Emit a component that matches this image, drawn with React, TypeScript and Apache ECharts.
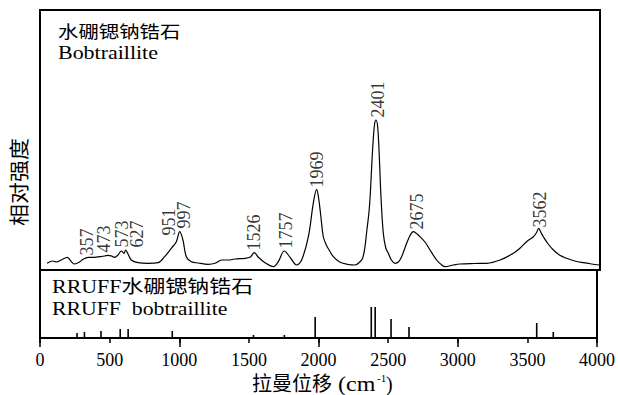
import React, { useEffect, useRef } from "react";
import * as echarts from "echarts";

// Raman spectrum of bobtraillite (wavenumber, relative intensity)
const spectrumX = [
  50, 93, 117, 152, 195, 224, 248, 283, 307, 343, 367, 390, 426, 462, 486, 510, 533, 557, 581, 600,
  612, 629, 652, 700, 771, 843, 890, 938, 974, 998, 1021, 1045, 1081, 1129, 1202, 1250, 1298, 1345,
  1393, 1464, 1500, 1531, 1560, 1607, 1667, 1702, 1745, 1786, 1833, 1869, 1917, 1952, 1976, 1990,
  2005, 2024, 2045, 2065, 2095, 2140, 2200, 2250, 2286, 2305, 2321, 2335, 2350, 2360, 2369, 2380,
  2390, 2400, 2412, 2424, 2436, 2452, 2470, 2488, 2510, 2536, 2560, 2583, 2619, 2645, 2667, 2685,
  2702, 2750, 2786, 2833, 2870, 2893, 2952, 3000, 3100, 3190, 3286, 3381, 3430, 3476, 3524, 3545,
  3562, 3580, 3595, 3630, 3667, 3710, 3762, 3820, 3881, 3940, 3995,
];
const spectrumY = [
  6.7, 9, 8, 10, 12.7, 8.3, 6, 8, 10.7, 12.7, 12.7, 12.7, 13.3, 14, 14.7, 14, 12.7, 15, 19, 16.7,
  20, 16, 10, 7.3, 6.7, 7.3, 13.3, 21.7, 28.3, 38.3, 30, 13.3, 8.3, 7, 5.7, 6.7, 10, 10,
  11, 11.7, 12.7, 17.3, 12.7, 7.3, 3.3, 8.3, 19, 12.7, 5, 10, 33.3, 66.7, 80.7, 72,
  55, 33, 25, 20, 13.3, 8, 5.5, 5, 8.3, 12, 23, 40, 58, 78, 103, 130,
  146, 150, 143, 112, 72, 37, 22, 16.7, 10, 6.7, 8, 13.3, 26.7, 35, 38.3, 37,
  35, 28, 20, 10, 5, 3.3, 5, 6, 6.5, 6.7, 10, 16.7, 22, 28.3, 33.3, 37,
  41.7, 37, 33.3, 26, 20, 15, 11.7, 9, 7.3, 6, 5,
];

// Peak labels and where each label sits (wavenumber, intensity of its base)
const peakLabels = ["357", "473", "573", "627", "951", "997", "1526", "1757", "1969", "2401", "2675", "3562"];
const peakLabelX = [338, 460, 583, 690, 919, 1028, 1530, 1759, 1976, 2412, 2690, 3571];
const peakLabelY = [14, 17, 22, 22, 34, 41, 19, 21, 82, 152, 40, 42];

// RRUFF reference lines (wavenumber, relative height)
const refX = [266, 319, 438, 576, 633, 950, 1533, 1755, 1976, 2379, 2407, 2521, 2650, 3567, 3686];
const refH = [5, 6, 7, 9, 9, 7, 3, 3, 21, 31, 31, 19, 11, 15, 6];

// Axis ticks
const xTickValues = [0, 500, 1000, 1500, 2000, 2500, 3000, 3500, 4000];
const xMajorStep = 1000;

const SERIF = "Liberation Serif, Noto Sans CJK SC, serif";
const NUM_FONT = "Liberation Serif";

export default function App() {
  const ref = useRef<HTMLDivElement>(null);
  useEffect(() => {
    if (!ref.current) return;
    const chart = echarts.init(ref.current, undefined, { renderer: "svg" });
    const xMin = xTickValues[0];
    const xMax = xTickValues[xTickValues.length - 1];
    const step = xTickValues[1] - xTickValues[0];
    const tickLine = { color: "#000", width: 1.5 };
    const option: any = {
      animation: false,
      grid: [
        { left: 40, top: 10, width: 560, height: 260, show: true, borderColor: "#000", borderWidth: 2, backgroundColor: "transparent" },
        { left: 40, top: 270, width: 560, height: 68, show: true, borderColor: "#000", borderWidth: 2, backgroundColor: "transparent" },
      ],
      xAxis: [
        { gridIndex: 0, type: "value", min: xMin, max: xMax, show: false },
        {
          gridIndex: 1, type: "value", position: "bottom", min: xMin, max: xMax, interval: step,
          axisLine: { show: false },
          axisTick: { show: true, length: 5, lineStyle: tickLine },
          axisLabel: { margin: 13, fontSize: 18, fontFamily: NUM_FONT, color: "#000", formatter: (v: number) => String(v) },
          splitLine: { show: false },
        },
        {
          gridIndex: 1, type: "value", position: "bottom", min: xMin, max: xMax, interval: xMajorStep,
          axisLine: { show: false },
          axisTick: { show: true, length: 9, lineStyle: tickLine },
          axisLabel: { show: false },
          splitLine: { show: false },
        },
      ],
      yAxis: [
        { gridIndex: 0, type: "value", min: 0, max: 260, show: false },
        { gridIndex: 1, type: "value", min: 0, max: 68, show: false },
      ],
      series: [
        {
          type: "line",
          xAxisIndex: 0,
          yAxisIndex: 0,
          data: spectrumX.map((x, i) => [x, spectrumY[i]]),
          showSymbol: false,
          symbol: "none",
          smooth: 0.35,
          lineStyle: { color: "#000", width: 1.2 },
          silent: true,
        },
        {
          type: "scatter",
          xAxisIndex: 0,
          yAxisIndex: 0,
          data: peakLabelX.map((x, i) => ({ value: [x, peakLabelY[i]], name: peakLabels[i] })),
          symbolSize: 1,
          itemStyle: { color: "transparent" },
          label: {
            show: true,
            position: "top",
            distance: 0,
            rotate: 90,
            align: "left",
            verticalAlign: "middle",
            formatter: (p: any) => p.name,
            fontSize: 18,
            fontFamily: NUM_FONT,
            color: "#000",
          },
          silent: true,
        },
        {
          type: "bar",
          xAxisIndex: 1,
          yAxisIndex: 1,
          data: refX.map((x, i) => [x, refH[i]]),
          barWidth: 1.6,
          itemStyle: { color: "#000" },
          silent: true,
        },
      ],
      graphic: [
        { type: "text", x: 58, y: 32, scaleX: 1.2, style: { text: "水硼锶钠锆石", fontSize: 17, fontFamily: SERIF, fill: "#000", textVerticalAlign: "middle" } },
        { type: "text", x: 58, y: 53, scaleX: 1.22, style: { text: "Bobtraillite", fontSize: 18, fontFamily: SERIF, fill: "#000", textVerticalAlign: "middle" } },
        { type: "text", x: 52, y: 287, scaleX: 1.22, style: { text: "RRUFF水硼锶钠锆石", fontSize: 18, fontFamily: SERIF, fill: "#000", textVerticalAlign: "middle" } },
        { type: "text", x: 52, y: 309, scaleX: 1.21, style: { text: "RRUFF  bobtraillite", fontSize: 18, fontFamily: SERIF, fill: "#000", textVerticalAlign: "middle" } },
        { type: "text", x: 20, y: 182, rotation: Math.PI / 2, scaleX: 1.1, style: { text: "相对强度", fontSize: 20, fontFamily: SERIF, fill: "#000", textAlign: "center", textVerticalAlign: "middle" } },
        { type: "text", x: 252, y: 384, style: { text: "拉曼位移", fontSize: 20, fontFamily: SERIF, fill: "#000", textVerticalAlign: "middle" } },
        { type: "text", x: 338, y: 384, scaleX: 1.2, style: { text: "(cm", fontSize: 20, fontFamily: SERIF, fill: "#000", textVerticalAlign: "middle" } },
        { type: "text", x: 377, y: 378, style: { text: "-1", fontSize: 11, fontFamily: SERIF, fill: "#000", textVerticalAlign: "middle" } },
        { type: "text", x: 386, y: 384, style: { text: ")", fontSize: 20, fontFamily: SERIF, fill: "#000", textVerticalAlign: "middle" } },
      ],
    };
    chart.setOption(option);
    return () => chart.dispose();
  }, []);
  return (
    <div
      ref={ref}
      style={{ position: "absolute", left: 0, top: 0, width: 618, height: 395, background: "#fff" }}
    />
  );
}
